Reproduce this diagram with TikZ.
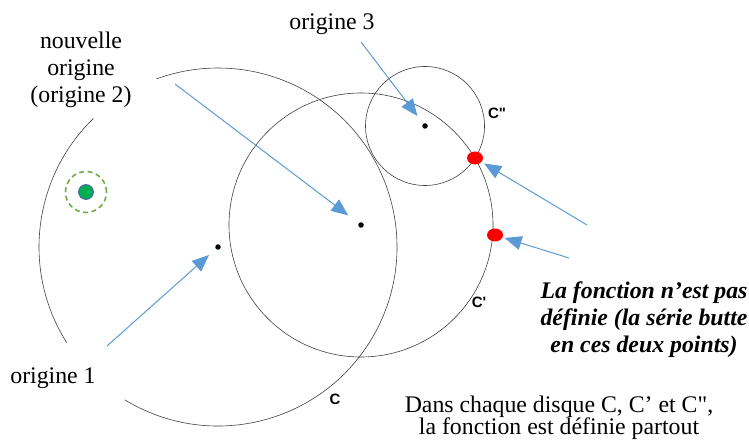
\documentclass[tikz,border=0pt]{standalone}
\usepackage{fontspec}
\setmainfont{Liberation Serif}
\newfontfamily\labfont{Liberation Sans}
\usetikzlibrary{arrows.meta,shapes.geometric}
\definecolor{arrblue}{HTML}{5B9BD5}
\definecolor{dgreen}{HTML}{00B050}
\definecolor{lgreen}{HTML}{70AD47}
\definecolor{dblue}{HTML}{41719C}
\definecolor{circgray}{HTML}{404040}
\tikzset{
  disk/.style={draw=circgray,line width=0.6pt},
  centre/.style={circle,fill=black,inner sep=0pt,minimum size=5.5pt},
  sing/.style={ellipse,fill=red,inner sep=0pt,minimum width=16pt,minimum height=13pt},
  ptr/.style={draw=arrblue,line width=1pt,-{Triangle[length=17pt,width=14pt]}},
  big/.style={font=\fontsize{23.8}{27.3}\selectfont},
  lab/.style={font=\labfont\bfseries\fontsize{15}{16}\selectfont,inner sep=0pt}
}
\begin{document}
\begin{tikzpicture}[x=1pt,y=1pt]
\useasboundingbox (0,0) rectangle (749,-443);
% disk C (broken behind the texts)
\coordinate (cC) at (218,-247);
\draw[disk] (cC) ++(238.7:179) arc[start angle=238.7,end angle=470.1,radius=179];
\draw[disk] (cC) ++(134.1:179) arc[start angle=134.1,end angle=212.3,radius=179];
% disk C'
\draw[disk] (361,-225) circle[radius=132];
% disk C''
\draw[disk] (425,-126) circle[radius=59.5];
% centres
\node[centre] (o1) at (218,-247) {};
\node[centre] (o2) at (361,-225) {};
\node[centre] (o3) at (425,-126) {};
% singular points
\node[sing] (s1) at (475,-158) {};
\node[sing] (s2) at (495,-235) {};
% green point
\draw[lgreen,line width=1.6pt,dash pattern=on 5pt off 3.5pt] (86,-192) circle[radius=20.5];
\node[circle,fill=dgreen,draw=dblue,line width=1.3pt,minimum size=14.5pt,inner sep=0pt] (g) at (86,-192) {};
% labels of circles
\node[lab] (lC) at (335,-399) {C};
\node[lab] (lC1) at (479,-302) {C'};
\node[lab] (lC2) at (497,-113) {C\textquotedbl};
% texts
\node[big,align=center] (t2) at (81,-70) {nouvelle\\origine\\(origine 2)};
\node[big,anchor=base] (t3) at (332,-30) {origine 3};
\node[big,anchor=base] (t1) at (53,-383) {origine 1};
\node[big,align=center,font=\fontsize{23.8}{27}\selectfont\bfseries\itshape] (tf) at (644,-319.5) {La fonction n’est pas\\définie (la série butte\\en ces deux points)};
\node[big,align=center,font=\fontsize{23.8}{22}\selectfont] (td) at (559,-417.5) {Dans chaque disque C, C’ et C\textquotedbl,\\la fonction est définie partout};
% arrows
\coordinate (a2) at (175,-84);
\coordinate (a3) at (361,-42);
\coordinate (a1) at (107,-346);
\coordinate (af1) at (587,-225);
\coordinate (af2) at (569,-258);
\draw[ptr,shorten >=13pt] (a2) -- (o2);
\draw[ptr,shorten >=9.5pt] (a3) -- (o3);
\draw[ptr,shorten >=9pt] (a1) -- (o1);
\draw[ptr,shorten >=3pt] (af1) -- (s1);
\draw[ptr,shorten >=2pt] (af2) -- (s2);
\end{tikzpicture}
\end{document}
